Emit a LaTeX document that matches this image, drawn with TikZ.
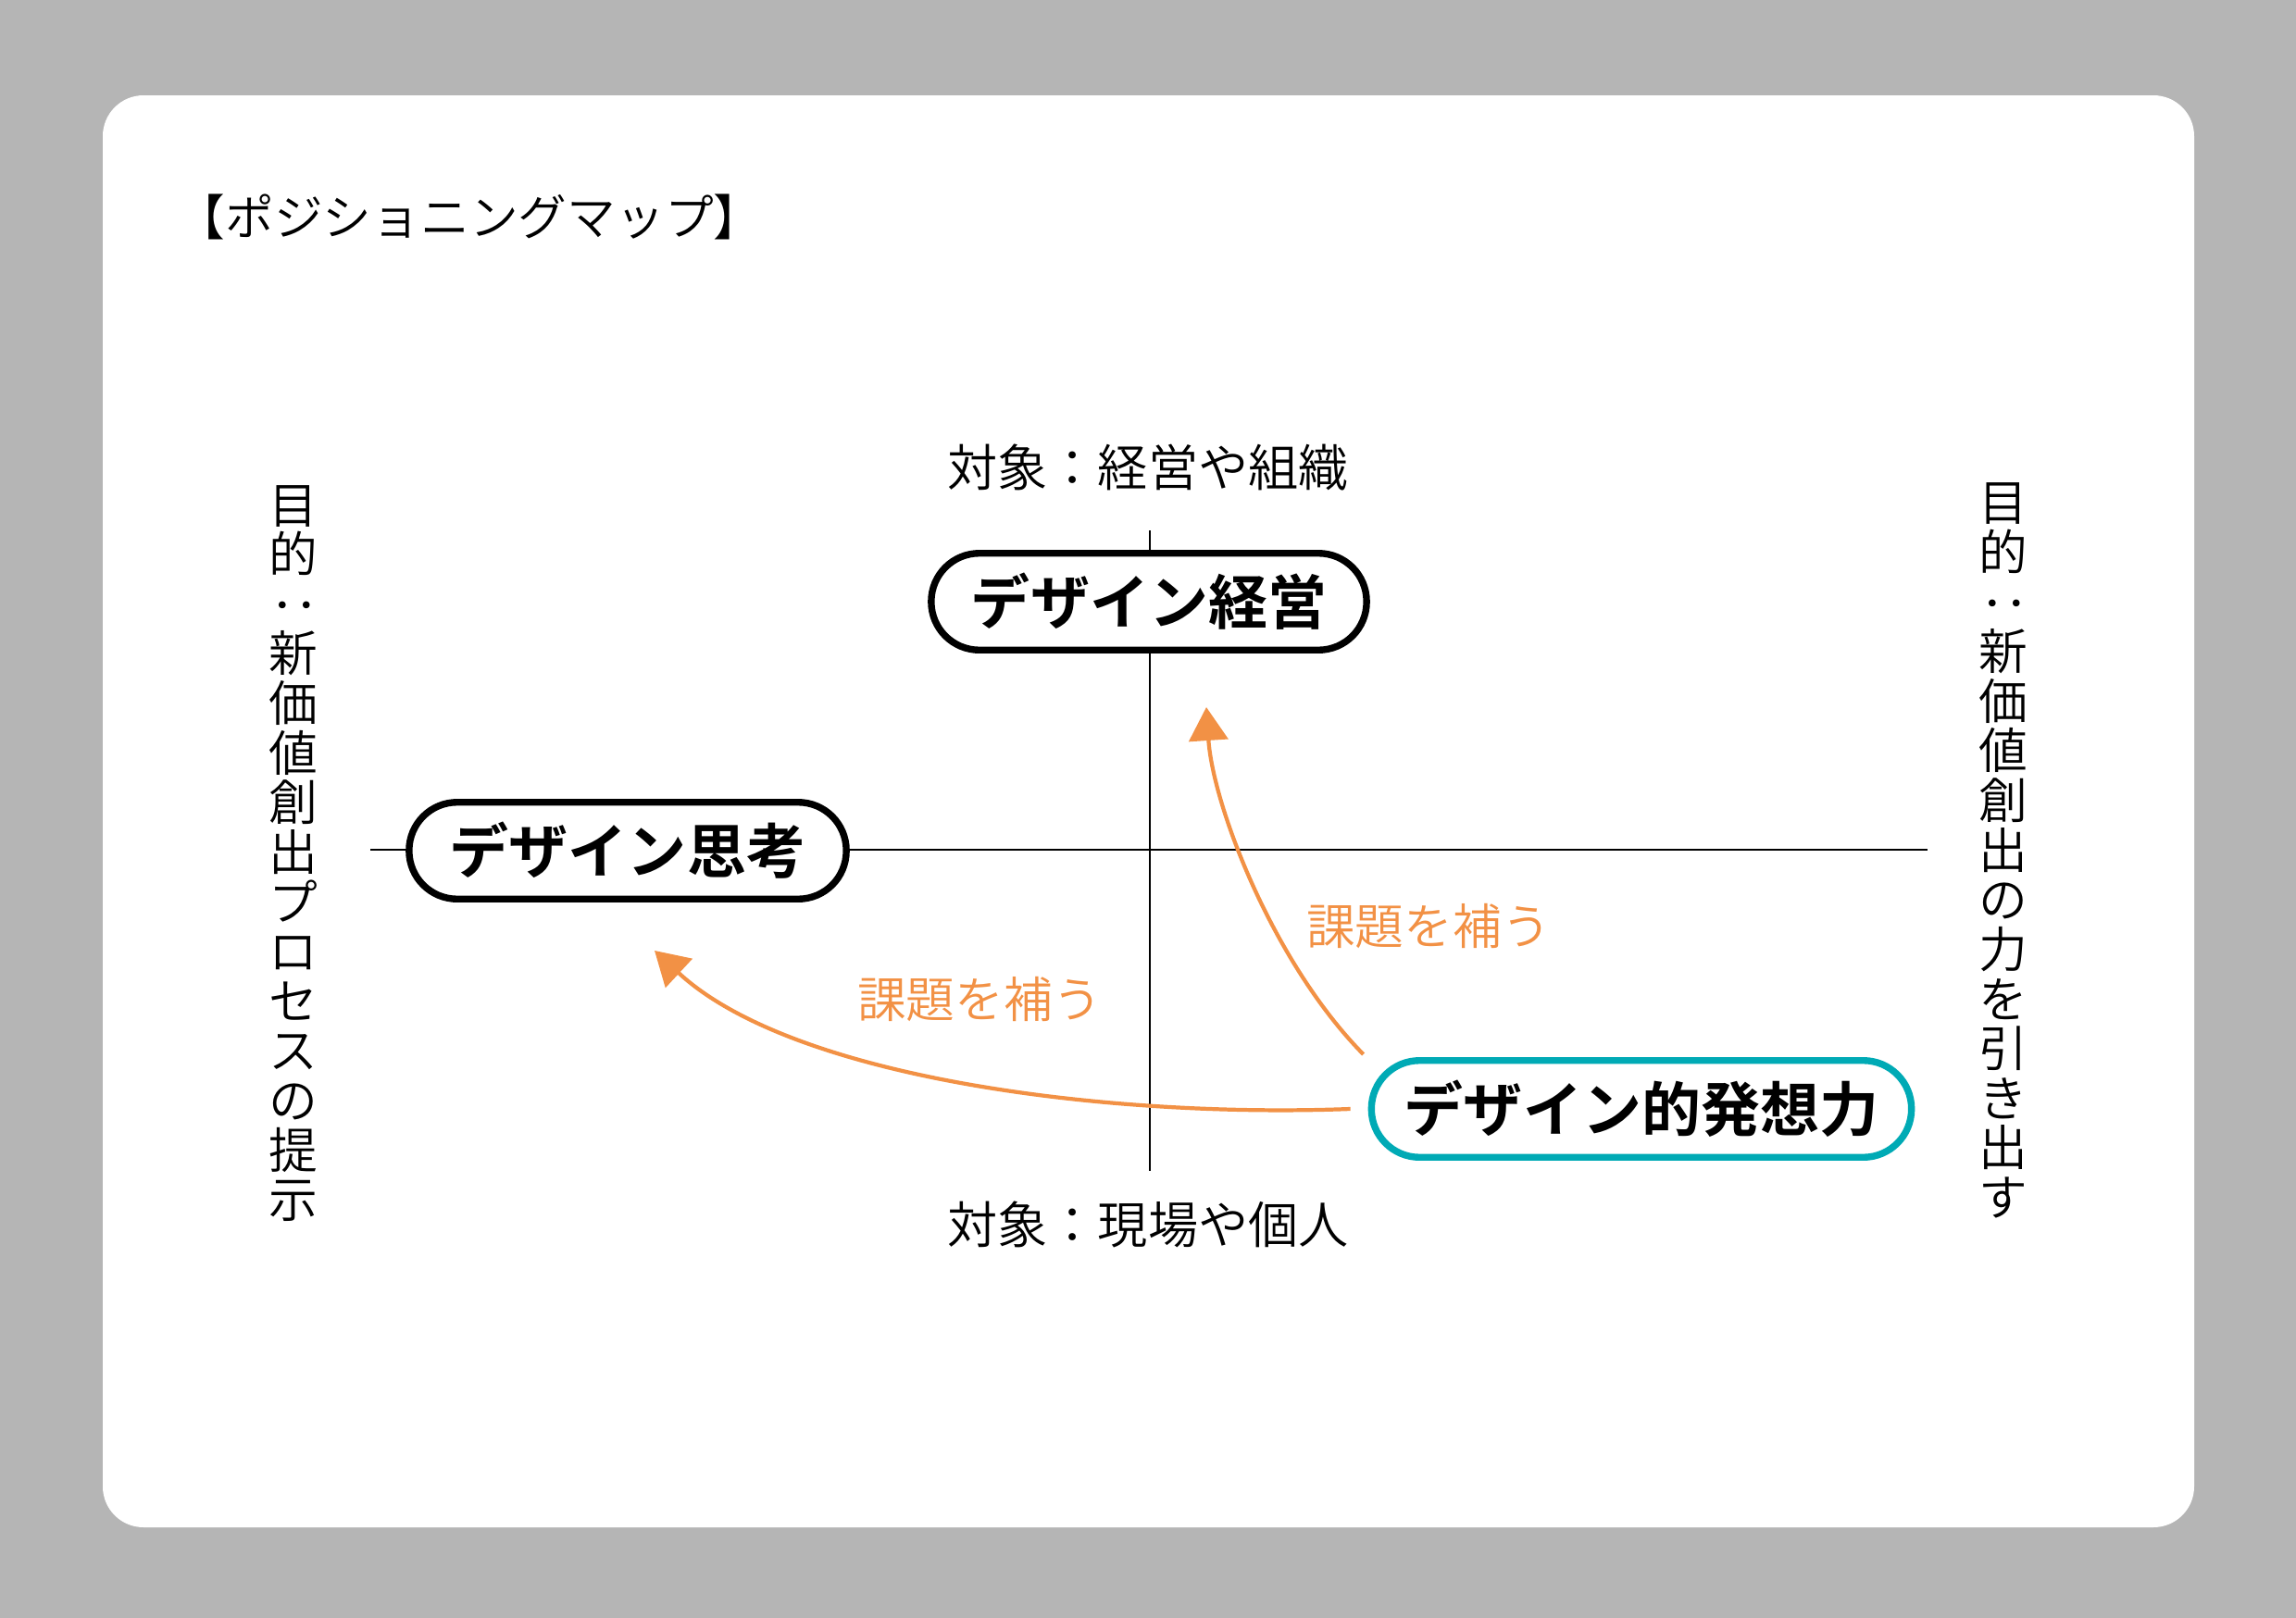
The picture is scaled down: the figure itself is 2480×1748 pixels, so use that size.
\documentclass[tikz,border=0pt]{standalone}
\usepackage{fontspec}
\usepackage{graphicx}
\setmainfont{Noto Sans CJK JP}
\IfFontExistsTF{Noto Sans CJK JP DemiLight}{\newfontfamily\jplight{Noto Sans CJK JP DemiLight}}{\newfontfamily\jplight{Noto Sans CJK JP}}
\IfFontExistsTF{Noto Sans CJK JP Bold}{\newfontfamily\jpbold{Noto Sans CJK JP Bold}}{\newfontfamily\jpbold{Noto Sans CJK JP}[FakeBold=2]}
\usetikzlibrary{arrows.meta}
\definecolor{bggray}{HTML}{B5B5B5}
\definecolor{tealc}{HTML}{00AAB5}
\definecolor{orangec}{HTML}{F29145}
\tikzset{
  pill/.style={draw=black, line width=2.1pt, fill=white, rounded corners=0.52cm,
    minimum height=1.045cm, inner sep=0pt, font=\jpbold\fontsize{18.2pt}{20pt}\selectfont},
  lbl/.style={inner sep=0pt, font=\jplight\fontsize{15pt}{16pt}\selectfont},
  axlbl/.style={inner sep=0pt, font=\jplight\fontsize{15.4pt}{16pt}\selectfont},
  vlbl/.style={inner sep=0pt, align=center, font=\jplight\fontsize{15pt}{15.25pt}\selectfont},
  axisline/.style={line width=0.6pt, black},
  supp/.style={draw=orangec, line width=1.2pt, -{Triangle[length=0.36cm,width=0.42cm]}},
}
\newcommand{\vcolon}{\rotatebox[origin=c]{-90}{：}}
\begin{document}
\begin{tikzpicture}[x=0.01cm,y=-0.01cm]
\useasboundingbox (0,0) rectangle (2480,1748);
\fill[bggray] (0,0) rectangle (2480,1748);
\fill[white, rounded corners=0.44cm] (111,103) rectangle (2370,1650);

% title
\node[lbl, anchor=west] (title) at (190,234) {【ポジショニングマップ】};

% axes
\coordinate (vtop) at (1242,573);
\coordinate (vbot) at (1242,1265);
\coordinate (hleft) at (400,918);
\coordinate (hright) at (2082,918);
\draw[axisline] (vtop) -- (vbot);
\draw[axisline] (hleft) -- (hright);

% axis labels
\node[axlbl] (toplbl) at (1240,505) {対象：経営や組織};
\node[axlbl] (botlbl) at (1240,1323) {対象：現場や個人};
\node[vlbl] (lefttxt) at (317,922) {目\\的\\\vcolon\\新\\価\\値\\創\\出\\プ\\ロ\\セ\\ス\\の\\提\\示};
\node[vlbl] (righttxt) at (2164,919) {目\\的\\\vcolon\\新\\価\\値\\創\\出\\の\\力\\を\\引\\き\\出\\す};

% nodes
\node[pill, minimum width=4.70cm] (keiei) at (1241,650) {デザイン経営};
\node[pill, minimum width=4.72cm] (shiko) at (678,919) {デザイン思考};
\node[pill, draw=tealc, minimum width=5.83cm] (hassou) at (1773,1198) {デザイン的発想力};

% arrows
\draw[supp] ([shift={(-5,-3)}]hassou.north west) .. controls (1375,1040) and (1310,870) .. ([shift={(62,58)}]keiei.south);
\draw[supp] ([xshift=-0.19cm]hassou.west) .. controls (1200,1208) and (857,1166) .. ([shift={(29,52)}]shiko.south);

% arrow labels
\node[lbl, text=orangec] (lbl1) at (1543,1001) {課題を補う};
\node[lbl, text=orangec] (lbl2) at (1058,1080) {課題を補う};
\end{tikzpicture}
\end{document}
